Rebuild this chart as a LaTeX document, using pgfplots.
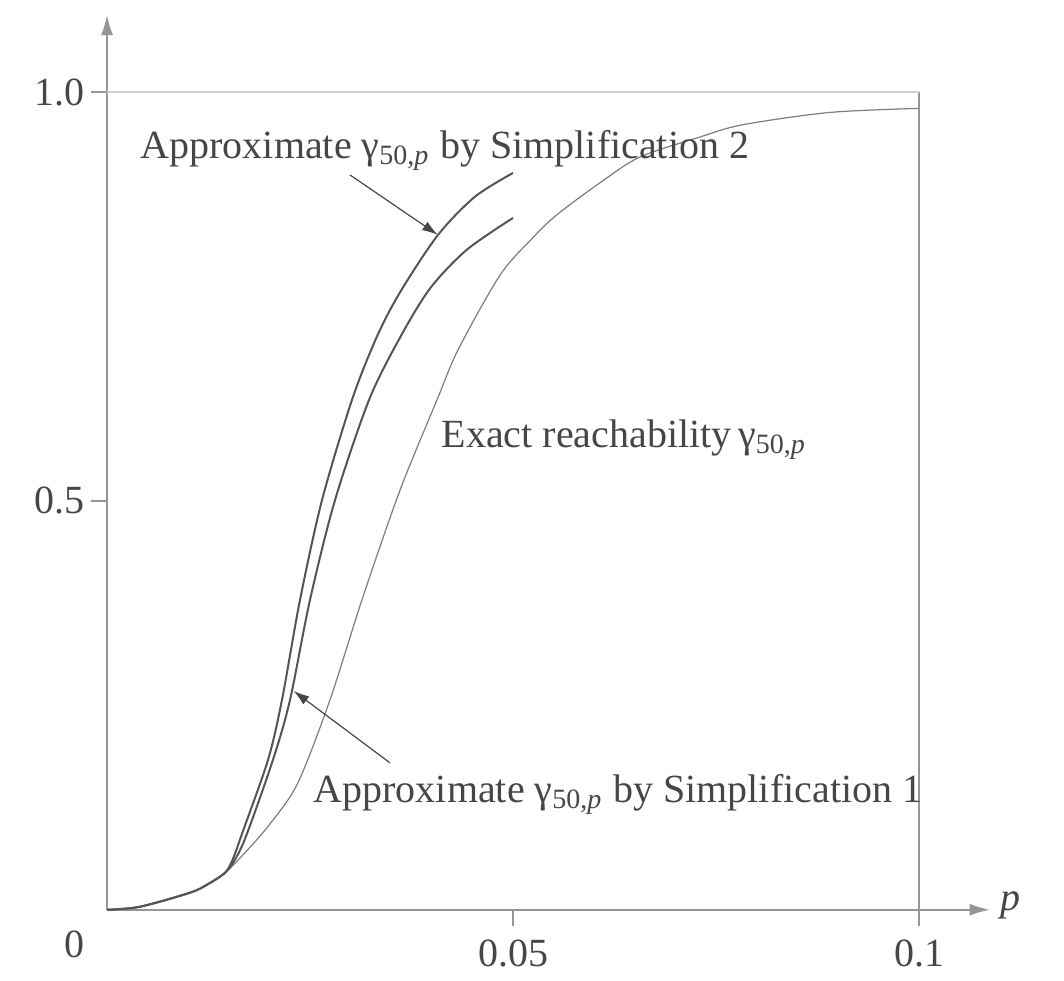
\documentclass[border=0pt]{standalone}
\usepackage{fontspec}
\setmainfont{Liberation Serif}
\usepackage{pgfplots}
\pgfplotsset{compat=1.18}
\usetikzlibrary{arrows.meta}
\definecolor{ink}{RGB}{70,70,70}
\definecolor{approx}{RGB}{85,85,85}
\definecolor{exact}{RGB}{125,125,125}
\definecolor{frame}{RGB}{150,150,150}
\newcommand{\gam}{γ\textsubscript{50,\textit{p}}}

\begin{document}
\begin{tikzpicture}
\begin{axis}[
    scale only axis,
    width=220.75pt, height=223.75pt,
    xmin=0, xmax=0.1087,
    ymin=0, ymax=1.094,
    axis lines=left,
    axis line style={frame, line width=0.4pt},
    every outer x axis line/.append style={-{Latex[length=5pt,width=3pt]}},
    every outer y axis line/.append style={-{Latex[length=5pt,width=3pt]}},
    xtick={0.05,0.1}, xticklabels={0.05,0.1},
    ytick={0.5,1.0}, yticklabels={0.5,1.0},
    tick align=outside,
    major tick length=4pt,
    tick style={frame, line width=0.4pt},
    ticklabel style={font=\fontsize{10}{12}\selectfont, text=ink},
    yticklabel style={xshift=2pt},
    clip=false,
]
% reference frame lines at p = 0.1 and gamma = 1
\draw[frame, line width=0.3pt] (axis cs:0.1,0) -- (axis cs:0.1,1.0);
\draw[frame!45, line width=0.3pt] (axis cs:0,1.0) -- (axis cs:0.1,1.0);

% exact reachability
\addplot[exact, line width=0.3pt, smooth] coordinates {
(0,0) (0.00406,0.0037) (0.0102,0.0208) (0.0123,0.0306) (0.01453,0.0452)
(0.0172,0.072) (0.02007,0.105) (0.0235,0.155) (0.02746,0.2567)
(0.0314,0.379) (0.03608,0.513) (0.04064,0.6235) (0.04323,0.6846)
(0.0484,0.776) (0.05246,0.822) (0.05542,0.850) (0.06071,0.889)
(0.06564,0.9205) (0.07303,0.945) (0.0783,0.960) (0.089,0.975) (0.1,0.980)};

% simplification 2
\addplot[approx, line width=0.5pt, smooth] coordinates {
(0,0) (0.00406,0.0037) (0.0102,0.0208) (0.0123,0.0306) (0.01453,0.0452)
(0.0155,0.062) (0.0167,0.095) (0.01983,0.1834) (0.02155,0.2567)
(0.02377,0.379) (0.02648,0.501) (0.03017,0.6235) (0.0332,0.700)
(0.03608,0.755) (0.04076,0.8252) (0.04532,0.872) (0.05,0.901)};

% simplification 1
\addplot[approx, line width=0.5pt, smooth] coordinates {
(0,0) (0.00406,0.0037) (0.0102,0.0208) (0.0123,0.0306) (0.01453,0.0452)
(0.0158,0.062) (0.0172,0.092) (0.02044,0.1834) (0.02254,0.2567)
(0.025,0.379) (0.02808,0.501) (0.03227,0.6235) (0.0361,0.700)
(0.0398,0.760) (0.0443,0.807) (0.05,0.846)};

% labels
\node[anchor=north east, text=ink, font=\fontsize{10}{12}\selectfont] at (axis cs:-0.001,-0.008) {0};
\node[anchor=west, text=ink, font=\fontsize{10}{12}\selectfont, inner sep=1pt] at (axis cs:0.1095,0.006) {\textit{p}};
\node[anchor=west, text=ink, font=\fontsize{10}{12}\selectfont, inner sep=0pt] at (axis cs:0.00406,0.928) {Approximate \gam{} by Simplification 2};
\node[anchor=west, text=ink, font=\fontsize{10}{12}\selectfont, inner sep=0pt] at (axis cs:0.04113,0.5746) {Exact reachability\,\gam};
\node[anchor=west, text=ink, font=\fontsize{10}{12}\selectfont, inner sep=0pt] at (axis cs:0.02537,0.1406) {Approximate \gam{} by Simplification 1};
\draw[ink, line width=0.3pt, -{Latex[length=4pt,width=2.5pt]}] (axis cs:0.02993,0.8985) -- (axis cs:0.04076,0.8252);
\draw[ink, line width=0.3pt, -{Latex[length=4pt,width=2.5pt]}] (axis cs:0.03485,0.1797) -- (axis cs:0.02296,0.2677);

% page extent
\path (axis cs:-0.01318,-0.0758) rectangle (axis cs:0.11786,1.1125);
\end{axis}
\end{tikzpicture}
\end{document}
